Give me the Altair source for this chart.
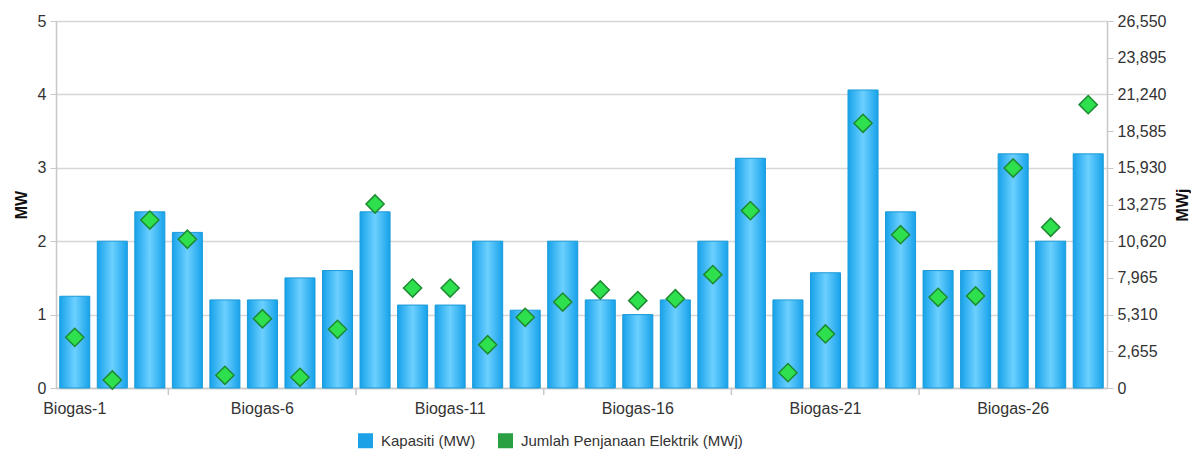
import altair as alt
import pandas as pd

categories = [f"Biogas-{i}" for i in range(1, 29)]
kapasiti_mw = [1.25, 2.0, 2.4, 2.12, 1.2, 1.2, 1.5, 1.6, 2.4, 1.13,
               1.13, 2.0, 1.06, 2.0, 1.2, 1.0, 1.2, 2.0, 3.13, 1.2,
               1.57, 4.06, 2.4, 1.6, 1.6, 3.19, 2.0, 3.19]
penjanaan_mwj = [3665, 580, 12150, 10760, 920, 5010, 775, 4245, 13310, 7230,
                 7230, 3130, 5115, 6220, 7090, 6320, 6460, 8200, 12830, 1110,
                 3910, 19150, 11090, 6560, 6655, 15915, 11630, 20500]
series_names = ["Kapasiti (MW)", "Jumlah Penjanaan Elektrik (MWj)"]
series_colors = ["#1da1e6", "#2aa043"]
tick_cats = ["Biogas-4", "Biogas-9", "Biogas-14", "Biogas-19", "Biogas-24"]
left_ticks = [0, 1, 2, 3, 4, 5]
right_ticks = [0, 2655, 5310, 7965, 10620, 13275, 15930, 18585, 21240, 23895, 26550]

df = pd.DataFrame({"cat": categories, "mw": kapasiti_mw, "mwj": penjanaan_mwj})
leg_df = pd.DataFrame({"series": series_names})
tick_df = pd.DataFrame({"cat": tick_cats})

FONT = "Liberation Sans"
FS = 16
W, H = 1051, 367

xenc = alt.X("cat:N", sort=categories,
             scale=alt.Scale(paddingInner=0.2, paddingOuter=0.1),
             axis=alt.Axis(title=None, labelAngle=0, ticks=False,
                           labelExpr="toNumber(split(datum.value,'-')[1]) % 5 == 1 ? datum.value : ''",
                           labelFontSize=FS, labelColor="#333333", labelPadding=12,
                           domainColor="#c8c8c8", domainWidth=1.5, labelFont=FONT))

grad = alt.Gradient(gradient="linear",
                    stops=[alt.GradientStop(color="#17a2ea", offset=0),
                           alt.GradientStop(color="#6cd0ff", offset=0.5),
                           alt.GradientStop(color="#17a2ea", offset=1)],
                    x1=0, x2=1, y1=0, y2=0)

bars = alt.Chart(df).mark_bar(fill=grad, stroke="#1a9ad8", strokeWidth=1).encode(
    x=xenc,
    y=alt.Y("mw:Q", scale=alt.Scale(domain=[0, 5], nice=False),
            axis=alt.Axis(title="MW", values=left_ticks, orient="left",
                          titleFontSize=FS, titleFontWeight="bold", titleColor="#111111",
                          titlePadding=8, labelFontSize=FS, labelColor="#333333",
                          labelPadding=4, tickColor="#c8c8c8", tickSize=6,
                          domainColor="#c8c8c8", domainWidth=1.5,
                          gridColor="#d6d6d6", gridWidth=1.5, labelFont=FONT,
                          titleFont=FONT)),
)

points = alt.Chart(df).mark_point(shape="diamond", filled=True, fill="#2ee04e",
                                  stroke="#1e8a32", strokeWidth=1.5, size=330,
                                  opacity=1).encode(
    x=alt.X("cat:N", sort=categories),
    y=alt.Y("mwj:Q", scale=alt.Scale(domain=[0, 26550], nice=False),
            axis=alt.Axis(title="MWj", values=right_ticks, orient="right", format=",d",
                          grid=False, titleAngle=270, titleFontSize=FS,
                          titleFontWeight="bold", titleColor="#111111", titlePadding=25,
                          labelFontSize=FS, labelColor="#333333", labelPadding=4,
                          tickColor="#c8c8c8", tickSize=6, domainColor="#c8c8c8",
                          domainWidth=1.5, labelFont=FONT, titleFont=FONT)),
)

xticks = alt.Chart(tick_df).mark_rule(color="#c8c8c8", strokeWidth=1.5, xOffset=-4).encode(
    x=alt.X("cat:N", sort=categories, bandPosition=0),
    y=alt.value(H),
    y2=alt.value(H + 7),
)

legend_layer = alt.Chart(leg_df).mark_square(opacity=0).encode(
    color=alt.Color("series:N",
                    scale=alt.Scale(domain=series_names, range=series_colors),
                    legend=alt.Legend(title=None, orient="none", direction="horizontal",
                                      legendX=302, legendY=412, padding=0,
                                      symbolType="square", symbolSize=225,
                                      symbolOpacity=1, symbolStrokeWidth=0,
                                      labelFontSize=15, labelColor="#333333",
                                      labelFont=FONT, labelLimit=0, columnPadding=22,
                                      labelOffset=8)),
)

chart = alt.layer(bars, points, xticks, legend_layer).resolve_scale(
    y="independent"
).properties(width=W, height=H).configure_view(stroke=None).configure(
    font=FONT, padding={"left": 5, "top": 5, "right": 0, "bottom": 5}
)

chart.save("out.html", embed_options={"renderer": "svg", "actions": False})
